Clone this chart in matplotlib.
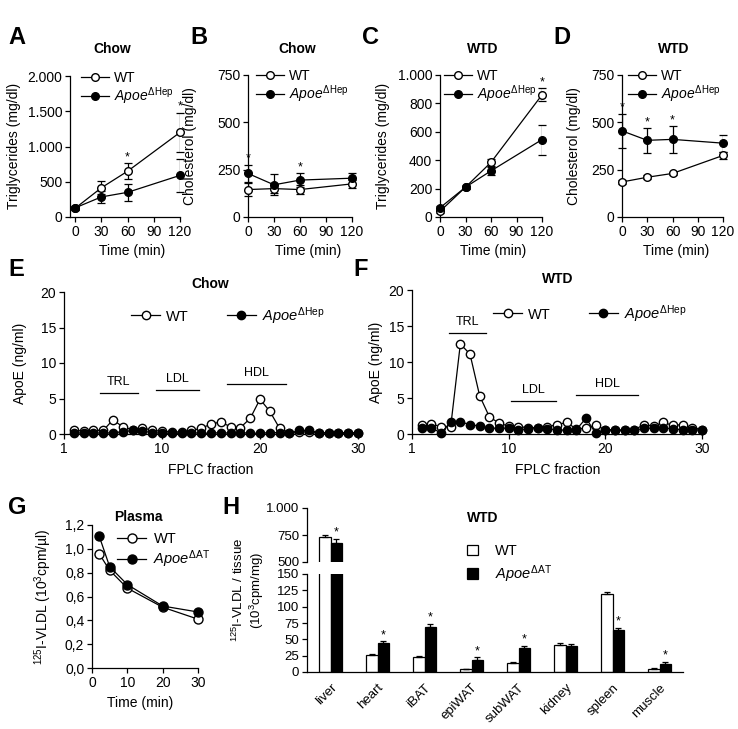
import matplotlib
matplotlib.use("Agg")
import matplotlib.pyplot as plt
import numpy as np
from matplotlib.ticker import FuncFormatter

plt.rcParams['font.family'] = ['Liberation Sans', 'DejaVu Sans']
plt.rcParams['mathtext.fontset'] = 'custom'
plt.rcParams['mathtext.rm'] = 'Liberation Sans'
plt.rcParams['mathtext.it'] = 'Liberation Sans:italic'
plt.rcParams['mathtext.bf'] = 'Liberation Sans:bold'

# ---- data ----
time = [0, 30, 60, 120]
tg_chow_wt = [125, 415, 650, 1200]
tg_chow_wt_err = [30, 90, 110, 280]
tg_chow_ko = [130, 285, 350, 590]
tg_chow_ko_err = [30, 80, 120, 235]
tg_chow_star = [60, 120]

chol_chow_wt = [145, 150, 145, 175]
chol_chow_wt_err = [35, 25, 25, 20]
chol_chow_ko = [230, 170, 195, 205]
chol_chow_ko_err = [45, 55, 35, 30]
chol_chow_star = [0, 60]

tg_wtd_wt = [40, 210, 385, 860]
tg_wtd_wt_err = [10, 10, 25, 45]
tg_wtd_ko = [65, 210, 325, 545]
tg_wtd_ko_err = [10, 10, 30, 105]
tg_wtd_star = [120]

chol_wtd_wt = [185, 210, 230, 325]
chol_wtd_wt_err = [10, 10, 10, 20]
chol_wtd_ko = [455, 405, 410, 390]
chol_wtd_ko_err = [90, 65, 70, 45]
chol_wtd_star = [0, 30, 60]

fraction = list(range(1, 31))
apoe_chow_wt = [0.55, 0.4, 0.5, 0.5, 2.0, 1.0, 0.6, 0.9, 0.5, 0.4, 0.3, 0.3, 0.5, 0.8, 1.4,
                1.7, 1.0, 0.9, 2.2, 4.9, 3.2, 0.8, 0.2, 0.3, 0.3, 0.2, 0.2, 0.2, 0.2, 0.2]
apoe_chow_ko = [0.2, 0.1, 0.2, 0.1, 0.2, 0.3, 0.5, 0.4, 0.2, 0.1, 0.1, 0.1, 0.2, 0.1, 0.1,
                0.2, 0.1, 0.2, 0.1, 0.1, 0.2, 0.2, 0.1, 0.5, 0.5, 0.2, 0.1, 0.1, 0.1, 0.1]
apoe_wtd_wt = [1.3, 1.4, 1.0, 1.0, 12.5, 11.1, 5.3, 2.4, 1.5, 1.1, 1.0, 0.9, 0.9, 1.0, 1.3,
               1.6, 0.7, 0.8, 1.2, 0.6, 0.5, 0.5, 0.6, 1.3, 1.1, 1.6, 1.2, 1.3, 0.9, 0.6]
apoe_wtd_ko = [0.8, 0.9, 0.1, 1.7, 1.7, 1.3, 1.1, 0.8, 0.8, 0.8, 0.5, 0.7, 0.9, 0.7, 0.6,
               0.5, 0.6, 2.2, 0.1, 0.6, 0.6, 0.5, 0.5, 0.8, 0.8, 0.9, 0.7, 0.6, 0.5, 0.6]
chow_ranges = [("TRL", 3.7, 7.5, 5.8), ("LDL", 9.4, 13.8, 6.2), ("HDL", 16.6, 22.7, 7.1)]
wtd_ranges = [("TRL", 3.8, 7.7, 14.0), ("LDL", 10.2, 14.9, 4.6), ("HDL", 17.0, 23.4, 5.4)]

plasma_time = [2, 5, 10, 20, 30]
plasma_wt = [0.96, 0.82, 0.67, 0.51, 0.41]
plasma_ko = [1.11, 0.85, 0.70, 0.52, 0.47]

tissues = ['liver', 'heart', 'iBAT', 'epiWAT', 'subWAT', 'kidney', 'spleen', 'muscle']
tissue_wt = [735, 26, 23, 4, 14, 41, 119, 5]
tissue_wt_err = [15, 2, 2, 1, 2, 4, 4, 1]
tissue_ko = [675, 45, 69, 19, 36, 40, 64, 13]
tissue_ko_err = [40, 2, 5, 4, 4, 3, 4, 3]
tissue_star = [True, True, True, True, True, False, True, True]

KO_HEP = r'$\mathit{Apoe}^{\Delta\mathrm{Hep}}$'
KO_AT = r'$\mathit{Apoe}^{\Delta\mathrm{AT}}$'

TICK = 10
LAB = 10
TITLE = 10
LEG = 10

# ---- layout helpers (pixels) ----
W, H = 738, 729
fig = plt.figure(figsize=(W / 100, H / 100), dpi=100)


def fx(x):
    return x / W


def fy(y):
    return 1 - y / H


def add_ax(l, t, r, b):
    return fig.add_axes([l / W, 1 - b / H, (r - l) / W, (b - t) / H])


def style(ax, size=TICK):
    for s in ['top', 'right']:
        ax.spines[s].set_visible(False)
    for s in ['left', 'bottom']:
        ax.spines[s].set_linewidth(0.9)
    ax.tick_params(direction='out', length=3.5, width=0.9, labelsize=size, pad=2)


def text(x, y, s, **kw):
    fig.text(fx(x), fy(y), s, ha=kw.pop('ha', 'center'), va=kw.pop('va', 'center'), **kw)


thousands = FuncFormatter(lambda v, p: f"{v:,.0f}".replace(',', '.'))
commas = FuncFormatter(lambda v, p: f"{v:.1f}".replace('.', ','))


def time_panel(rect, xmin, wt, wt_err, ko, ko_err, stars, ymax, ystep, leg_xy):
    ax = add_ax(*rect)
    style(ax)
    ax.errorbar(time, wt, yerr=wt_err, fmt='none', ecolor='black', elinewidth=0.9, capsize=3, capthick=0.9)
    ax.errorbar(time, ko, yerr=ko_err, fmt='none', ecolor='black', elinewidth=0.9, capsize=3, capthick=0.9)
    ax.plot(time, wt, '-o', color='black', mfc='white', mec='black', ms=5.5, lw=0.9, label='WT', zorder=3)
    ax.plot(time, ko, '-o', color='black', mfc='black', ms=5.5, lw=0.9, label=KO_HEP, zorder=4)
    for t in stars:
        i = time.index(t)
        top = max(wt[i] + wt_err[i], ko[i] + ko_err[i])
        ax.annotate('*', (t, top), xytext=(0, 0), textcoords='offset points', ha='center', va='bottom',
                    fontsize=9, annotation_clip=False)
    ax.set_xlim(xmin, 120)
    ax.set_ylim(0, ymax)
    ax.set_xticks([0, 30, 60, 90, 120])
    ax.set_yticks(np.arange(0, ymax + 1, ystep))
    ax.yaxis.set_major_formatter(thousands)
    for ln in ax.lines:
        ln.set_clip_on(False)
    ax.legend(loc='upper left', bbox_to_anchor=(fx(leg_xy[0]), fy(leg_xy[1])), bbox_transform=fig.transFigure,
              frameon=False, fontsize=LEG, borderpad=0, borderaxespad=0, handlelength=2.0,
              handletextpad=0.4, labelspacing=0.0)
    return ax


time_panel((70, 76, 180, 217), -6, tg_chow_wt, tg_chow_wt_err, tg_chow_ko, tg_chow_ko_err,
           tg_chow_star, 2000, 500, (81, 71))
time_panel((248, 75, 352, 217), 0, chol_chow_wt, chol_chow_wt_err, chol_chow_ko, chol_chow_ko_err,
           chol_chow_star, 750, 250, (256, 69))
time_panel((440, 75, 542, 217), 0, tg_wtd_wt, tg_wtd_wt_err, tg_wtd_ko, tg_wtd_ko_err,
           tg_wtd_star, 1000, 200, (444, 69))
time_panel((622, 75, 723, 217), 0, chol_wtd_wt, chol_wtd_wt_err, chol_wtd_ko, chol_wtd_ko_err,
           chol_wtd_star, 750, 250, (628, 69))

for lx, ly, s in [(8, 37, 'A'), (190, 37, 'B'), (362, 37, 'C'), (553, 37, 'D')]:
    text(lx, ly, s, ha='left', fontsize=17, weight='bold')
for cx, s in [(112, 'Chow'), (297, 'Chow'), (483, 'WTD'), (674, 'WTD')]:
    text(cx, 49, s, fontsize=TITLE, weight='bold')
for cx, s in [(14, 'Triglycerides (mg/dl)'), (190, 'Cholesterol (mg/dl)'),
              (383, 'Triglycerides (mg/dl)'), (574, 'Cholesterol (mg/dl)')]:
    text(cx, 146, s, rotation=90, fontsize=LAB)
for cx in [132, 308, 493, 676]:
    text(cx, 251, 'Time (min)', fontsize=LAB)


# ---- E / F ----
def fplc_panel(rect, wt, ko, ranges, leg_xy):
    ax = add_ax(*rect)
    style(ax)
    ax.plot(fraction, wt, '-o', color='black', mfc='white', mec='black', ms=6, lw=0.9, label='WT', zorder=3)
    ax.plot(fraction, ko, '-o', color='black', mfc='black', ms=6, lw=0.9, label=KO_HEP, zorder=4)
    for name, x0, x1, y in ranges:
        ax.plot([x0, x1], [y, y], color='black', lw=0.9)
        ax.text((x0 + x1) / 2, y + 0.7, name, ha='center', va='bottom', fontsize=9)
    ax.set_xlim(0, 30)
    ax.set_ylim(0, 20)
    ax.set_xticks([0, 10, 20, 30])
    ax.set_xticklabels(['1', '10', '20', '30'])
    ax.set_yticks([0, 5, 10, 15, 20])
    for ln in ax.lines:
        ln.set_clip_on(False)
    ax.legend(loc='upper left', bbox_to_anchor=(fx(leg_xy[0]), fy(leg_xy[1])), bbox_transform=fig.transFigure,
              frameon=False, fontsize=10.5, borderpad=0, borderaxespad=0, handlelength=2.0,
              handletextpad=0.4, ncol=2, columnspacing=2.6)
    return ax


fplc_panel((64, 292, 358, 434), apoe_chow_wt, apoe_chow_ko, chow_ranges, (131, 305))
fplc_panel((412, 290, 702, 434), apoe_wtd_wt, apoe_wtd_ko, wtd_ranges, (493, 303))
text(8, 270, 'E', ha='left', fontsize=17, weight='bold')
text(353, 270, 'F', ha='left', fontsize=17, weight='bold')
text(210, 284, 'Chow', fontsize=TITLE, weight='bold')
text(558, 279, 'WTD', fontsize=TITLE, weight='bold')
text(20, 363, 'ApoE (ng/ml)', rotation=90, fontsize=LAB)
text(376, 362, 'ApoE (ng/ml)', rotation=90, fontsize=LAB)
text(211, 470, 'FPLC fraction', fontsize=LAB)
text(558, 470, 'FPLC fraction', fontsize=LAB)

# ---- G ----
axg = add_ax(92, 525, 198, 668)
style(axg)
axg.plot(plasma_time, plasma_wt, '-o', color='black', mfc='white', mec='black', ms=6.5, lw=0.9, label='WT', zorder=3)
axg.plot(plasma_time, plasma_ko, '-o', color='black', mfc='black', ms=6.5, lw=0.9, label=KO_AT, zorder=4)
axg.set_xlim(0, 30)
axg.set_ylim(0, 1.2)
axg.set_xticks([0, 10, 20, 30])
axg.set_yticks(np.arange(0, 1.21, 0.2))
axg.yaxis.set_major_formatter(commas)
for ln in axg.lines:
    ln.set_clip_on(False)
axg.legend(loc='upper left', bbox_to_anchor=(fx(117), fy(532)), bbox_transform=fig.transFigure,
           frameon=False, fontsize=10.5, borderpad=0, borderaxespad=0, handlelength=2.0,
           handletextpad=0.5, labelspacing=0.15)
text(8, 507, 'G', ha='left', fontsize=17, weight='bold')
text(138, 517, 'Plasma', fontsize=TITLE, weight='bold')
text(43, 597, r'$^{125}$I-VLDL (10$^{3}$cpm/µl)', rotation=90, fontsize=LAB)
text(140, 703, 'Time (min)', fontsize=LAB)

# ---- H (broken axis) ----
xpos = np.arange(len(tissues))
bw = 0.25
axu = add_ax(307, 508, 683, 562)
axl = add_ax(307, 574, 683, 672)
for ax in (axu, axl):
    style(ax, size=9.5)
    ax.bar(xpos - bw / 2, tissue_wt, bw, color='white', edgecolor='black', linewidth=0.9)
    ax.bar(xpos + bw / 2, tissue_ko, bw, color='black', edgecolor='black', linewidth=0.9)
    ax.errorbar(xpos - bw / 2, tissue_wt, yerr=[[0] * len(xpos), tissue_wt_err], fmt='none',
                ecolor='black', elinewidth=0.9, capsize=2.5, capthick=0.9)
    ax.errorbar(xpos + bw / 2, tissue_ko, yerr=[[0] * len(xpos), tissue_ko_err], fmt='none',
                ecolor='black', elinewidth=0.9, capsize=2.5, capthick=0.9)
    ax.set_xlim(-0.5, len(tissues) - 0.5)
axu.set_ylim(500, 1000)
axu.set_yticks([500, 750, 1000])
axu.yaxis.set_major_formatter(thousands)
axu.spines['bottom'].set_visible(False)
axu.set_xticks([])
axl.set_ylim(0, 150)
axl.set_yticks(np.arange(0, 151, 25))
axl.set_xticks(xpos)
axl.set_xticklabels(tissues, rotation=45, ha='right', va='top', rotation_mode='anchor', fontsize=9.5)
axl.tick_params(axis='x', length=0, pad=7)
for i, s in enumerate(tissue_star):
    if s:
        top = tissue_ko[i] + tissue_ko_err[i]
        target = axu if top > 150 else axl
        target.annotate('*', (xpos[i] + bw / 2, top), xytext=(0, 0), textcoords='offset points',
                        ha='center', va='bottom', fontsize=9)
axl.legend(loc='upper left', bbox_to_anchor=(fx(467), fy(544)), bbox_transform=fig.transFigure,
           frameon=False, fontsize=10.5, borderpad=0, borderaxespad=0, handlelength=0.75, handleheight=0.75,
           handletextpad=1.2, labelspacing=0.35, labels=['WT', KO_AT],
           handles=[axl.patches[0], axl.patches[len(tissues)]])
text(222, 508, 'H', ha='left', fontsize=17, weight='bold')
text(467, 518, 'WTD', ha='left', fontsize=TITLE, weight='bold')
text(238, 590, r'$^{125}$I-VLDL / tissue', rotation=90, fontsize=9.5)
text(257, 590, r'(10$^{3}$cpm/mg)', rotation=90, fontsize=9.5)

fig.savefig('out.png', dpi=100)
